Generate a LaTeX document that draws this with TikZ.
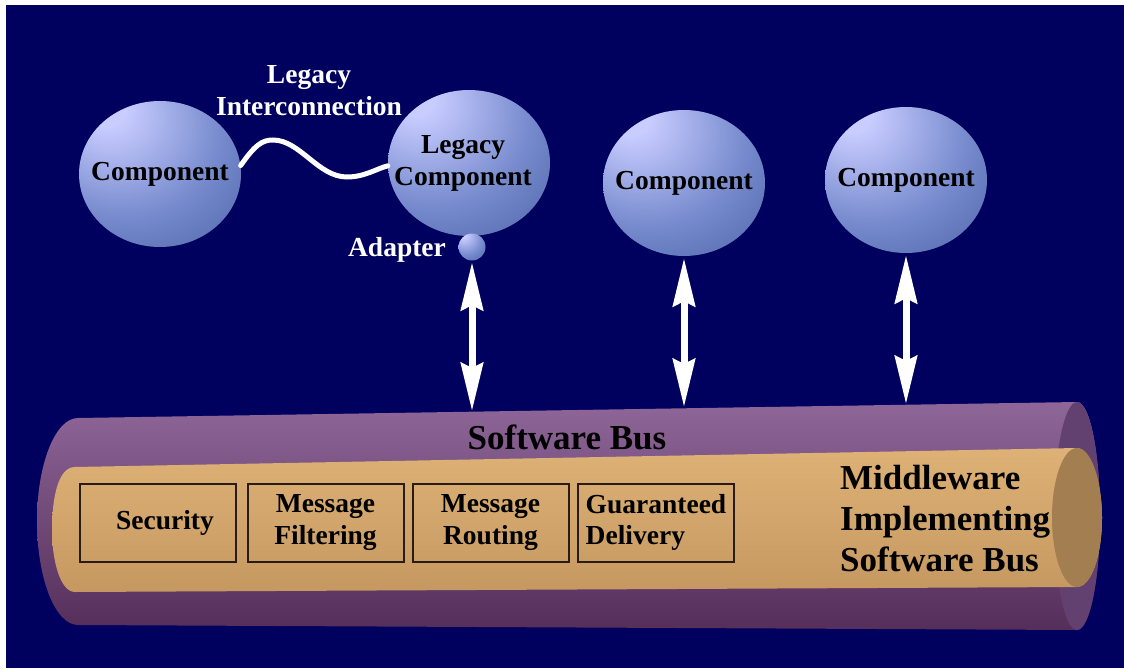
\documentclass[tikz,border=0pt]{standalone}
\usepackage{fontspec}
\setmainfont{Liberation Serif}
\usetikzlibrary{arrows.meta,shapes.geometric}
\definecolor{navy}{RGB}{0,0,94}
\definecolor{sphhi}{RGB}{200,204,255}
\definecolor{sphmid}{RGB}{118,138,205}
\definecolor{sphedge}{RGB}{62,88,152}
\definecolor{purtop}{RGB}{142,102,152}
\definecolor{purmid}{RGB}{118,80,130}
\definecolor{purbot}{RGB}{86,46,90}
\definecolor{purcap}{RGB}{98,64,112}
\definecolor{goldtop}{RGB}{222,178,118}
\definecolor{goldmid}{RGB}{230,188,128}
\definecolor{goldbot}{RGB}{196,152,96}
\definecolor{goldcap}{RGB}{162,126,80}
\definecolor{boxline}{RGB}{40,28,20}
\pgfdeclareradialshading{sphereshade}{\pgfpoint{-18bp}{24bp}}{color(0bp)=(sphhi); color(6bp)=(sphhi); color(30bp)=(sphmid); color(56bp)=(sphedge); color(80bp)=(sphedge)}
\newcommand\mylblfont{\fontsize{27.5bp}{32bp}\selectfont\bfseries}
\newcommand\mybigfont{\fontsize{35bp}{41bp}\selectfont\bfseries}
\newcommand\nosize[1]{\makebox[0pt][c]{\begin{tabular}{@{}c@{}}#1\end{tabular}}}
\begin{document}
\begin{tikzpicture}[x=1bp,y=-1bp,
  sphere/.style={ellipse, shading=sphereshade, inner sep=0pt, minimum width=162bp, minimum height=146bp, font=\mylblfont, text=black, align=center},
  adapter/.style={circle, shading=sphereshade, inner sep=0pt, minimum size=27bp},
  whitelbl/.style={font=\mylblfont, text=white, align=center, inner sep=0pt},
  bigblk/.style={font=\mybigfont, text=black, inner sep=0pt},
  fnbox/.style={draw=boxline, line width=2bp, minimum width=156bp, minimum height=78bp, inner sep=0pt, font=\mylblfont, text=black, align=center},
  wire/.style={white, line width=5bp, line cap=round},
  dblarrow/.style={white, line width=7bp, {Stealth[length=48bp,width=22bp,inset=5bp]}-{Stealth[length=48bp,width=22bp,inset=5bp]}}
]
\fill[white] (0,0) rectangle (1124,670);
\useasboundingbox (0,0) rectangle (1124,670);
\fill[navy] (6,5) rectangle (1124,668);

% outer purple tube
\shade[top color=purtop, middle color=purmid, bottom color=purbot]
  (78,418) -- (1077,402)
  .. controls (1090,402) and (1100,453) .. (1100,516)
  .. controls (1100,579) and (1090,630) .. (1077,630)
  -- (78,625)
  .. controls (55,625) and (37,578) .. (37,521)
  .. controls (37,465) and (55,418) .. (78,418) -- cycle;
\fill[purcap] (1077,516) ellipse [x radius=23bp, y radius=114bp];

% inner gold tube
\shade[top color=goldtop, middle color=goldmid, bottom color=goldbot]
  (75,467) -- (1077,448)
  .. controls (1091,448) and (1102,486) .. (1102,517.5)
  .. controls (1102,556) and (1091,587) .. (1077,587)
  -- (75,592)
  .. controls (60,592) and (52,560) .. (52,530)
  .. controls (52,498) and (58,467) .. (75,467) -- cycle;
\fill[goldcap] (1077,517.5) ellipse [x radius=25bp, y radius=69.5bp];

% bus labels and boxes
\node[bigblk] (sb) at (567,437) {Software Bus};
\node[bigblk, anchor=west, align=left] (mw) at (840,519) {Middleware\\Implementing\\Software Bus};
\node[fnbox] (sec) at (158,523) {\hspace*{14bp}Security};
\node[fnbox] (mf) at (325.5,523) {Message\\Filtering};
\node[fnbox] (mr) at (490.5,523) {Message\\Routing};
\node[fnbox] (gd) at (656,523) {\begin{tabular}{@{}l@{}}Guaranteed\\[-1bp]Delivery\end{tabular}};

% components
\node[sphere] (c1) at (160,174) {\nosize{Component}};
\node[sphere] (lc) at (469,163) {\nosize{\hspace*{-12bp}Legacy\\\hspace*{-12bp}Component}};
\node[sphere] (c3) at (684,183) {\nosize{Component}};
\node[sphere] (c4) at (906,180) {\nosize{Component}};
\node[adapter] (ad) at (472,247) {};
\node[whitelbl] (adl) at (397,250) {Adapter};
\node[whitelbl] (lil) at (309,91) {Legacy\\Interconnection};

% legacy wire
\draw[wire] (c1.6) .. controls (255,145) and (262,140) .. (273,140)
  .. controls (300,140) and (318,177) .. (347,177)
  .. controls (365,177) and (378,168) .. (lc.182);

% bus attachment points
\coordinate (b1) at (472,411);
\coordinate (b2) at (684,407);
\coordinate (b3) at (906,404);
\draw[dblarrow, shorten <=1.5bp] (ad) -- (b1);
\draw[dblarrow, shorten <=2bp] (c3) -- (b2);
\draw[dblarrow, shorten <=2bp] (c4) -- (b3);
\end{tikzpicture}
\end{document}
